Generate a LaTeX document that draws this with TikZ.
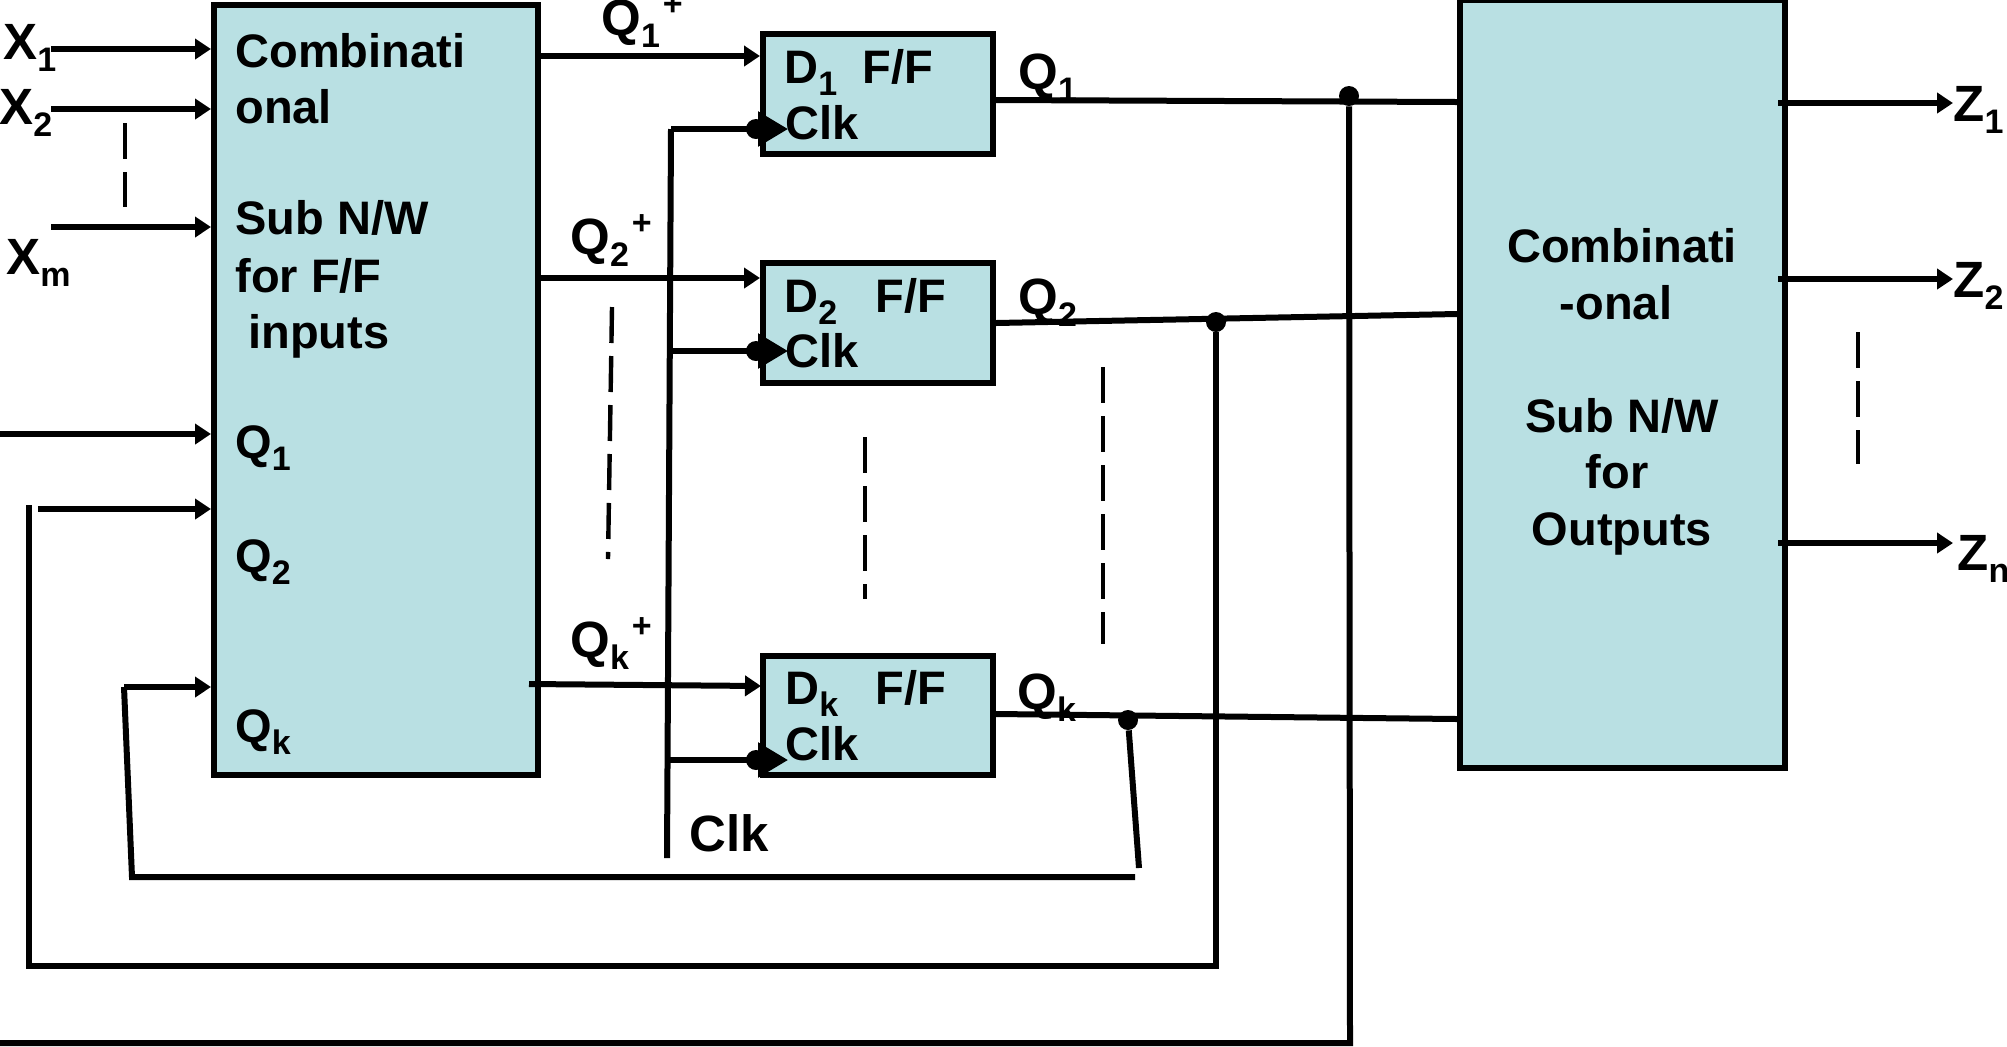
\documentclass[tikz,border=0pt]{standalone}
\usepackage{fontspec}
\setmainfont{Liberation Sans}
\usetikzlibrary{arrows.meta}
\definecolor{boxfill}{HTML}{B9E0E3}
\newcommand{\dn}[1]{\raisebox{-6pt}{\fontsize{17}{17}\selectfont #1}}
\newcommand{\pl}{\kern1.5pt\raisebox{10pt}{\fontsize{17}{17}\selectfont +}}
\begin{document}
\begin{tikzpicture}[x=0.5pt, y=-0.5pt,
  blk/.style={draw, fill=boxfill, line width=3pt, inner sep=0pt},
  lab/.style={anchor=base west, inner sep=0pt, font=\fontsize{23.5}{27}\selectfont\bfseries},
  biglab/.style={anchor=base west, inner sep=0pt, font=\fontsize{25.5}{29}\selectfont\bfseries},
  ctr/.style={anchor=base, inner sep=0pt, font=\fontsize{23.5}{27}\selectfont\bfseries},
  dot/.style={circle, fill=black, inner sep=0pt, minimum size=10pt},
  link/.style={line width=3pt},
  arr/.style={line width=3pt, -{Triangle[length=8pt,width=10pt]}},
  clkarr/.style={line width=3pt, -{Triangle[length=15pt,width=17pt]}},
  gaps/.style={line width=2.2pt, dash pattern=on 18pt off 6.5pt}]
  \useasboundingbox (0,0) rectangle (2007,1046);
  % blocks
  \node[blk, minimum width=162pt, minimum height=385pt] (comb) at (376,390) {};
  \node[blk, minimum width=162.5pt, minimum height=384pt] (outp) at (1622.5,384) {};
  \node[blk, minimum width=115pt, minimum height=60pt] (ff1) at (878,94) {};
  \node[blk, minimum width=115pt, minimum height=60pt] (ff2) at (878,323) {};
  \node[blk, minimum width=115pt, minimum height=59.5pt] (ffk) at (878,715) {};
  % text of the two blocks
  \node[lab] (t1) at (235,67) {Combinati};
  \node[lab] (t2) at (235,123) {onal};
  \node[lab] (t3) at (235,234) {Sub N/W};
  \node[lab] (t4) at (235,292) {for F/F};
  \node[lab] (t5) at (248,348) {inputs};
  \node[lab] (t6) at (235,458) {Q\dn{1}};
  \node[lab] (t7) at (235,572) {Q\dn{2}};
  \node[lab] (t8) at (235,742) {Q\dn{k}};
  \node[ctr] (r1) at (1622,262) {Combinati};
  \node[ctr] (r2) at (1616,319) {-onal};
  \node[ctr] (r3) at (1622,432) {Sub N/W};
  \node[ctr] (r4) at (1617,488) {for};
  \node[ctr] (r5) at (1622,545) {Outputs};
  % flip-flop text
  \node[lab] (d1) at (784,83) {D\dn{1}};
  \node[lab] (f1) at (862,83) {F/F};
  \node[lab] (c1) at (785,139) {Clk};
  \node[lab] (d2) at (784,312) {D\dn{2}};
  \node[lab] (f2) at (875,312) {F/F};
  \node[lab] (c2) at (785,367) {Clk};
  \node[lab] (dk) at (785,704) {D\dn{k}};
  \node[lab] (fk) at (875,704) {F/F};
  \node[lab] (ck) at (785,760) {Clk};
  % outer labels
  \node[biglab] (x1) at (3,59) {X\dn{1}};
  \node[biglab] (x2) at (-1,124) {X\dn{2}};
  \node[biglab] (xm) at (6,274) {X\dn{m}};
  \node[biglab] (qp1) at (601,35) {Q\dn{1}\pl};
  \node[biglab] (qp2) at (570,254) {Q\dn{2}\pl};
  \node[biglab] (qpk) at (570,657) {Q\dn{k}\pl};
  \node[biglab] (qo1) at (1018,89) {Q\dn{1}};
  \node[biglab] (qo2) at (1018,314) {Q\dn{2}};
  \node[biglab] (qok) at (1017,709) {Q\dn{k}};
  \node[biglab] (clk) at (689,851) {Clk};
  \node[biglab] (z1) at (1953,121) {Z\dn{1}};
  \node[biglab] (z2) at (1953,297) {Z\dn{2}};
  \node[biglab] (zn) at (1957,570) {Z\dn{n}};
  % free ends
  \coordinate (ix1) at (51,49);
  \coordinate (ix2) at (51,109);
  \coordinate (ixm) at (51,227);
  \coordinate (iq1) at (0,434);
  \coordinate (iq2) at (38,509);
  \coordinate (ikq) at (124,687);
  \coordinate (lk1) at (132,877);
  \coordinate (lk2) at (1135,877);
  \coordinate (lk3) at (1139,868);
  \coordinate (lb1) at (29,505);
  \coordinate (lb2) at (29,966);
  \coordinate (lb3) at (1216,966);
  \coordinate (lb4) at (1216,708);
  \coordinate (lb5) at (1216,711);
  \coordinate (fb1) at (0,1043);
  \coordinate (fb2) at (1350,1043);
  \coordinate (ckt) at (671,129);
  \coordinate (ckb) at (667,858);
  \coordinate (sk) at (529,684);
  \coordinate (ek) at (761,686);
  % dots on the outputs and on the clock inputs
  \node[dot] (n1) at (1349,96) {};
  \node[dot] (n2) at (1216,322) {};
  \node[dot] (n3) at (1128,720) {};
  \node[dot] (g1) at (756,129) {};
  \node[dot] (g2) at (756,351) {};
  \node[dot] (g3) at (756,760) {};
  \coordinate (t1c) at (788,129);
  \coordinate (t2c) at (788,351);
  \coordinate (t3c) at (788,760);
  % inputs of the left block
  \draw[arr] (ix1) -- (ix1 -| comb.west);
  \draw[arr] (ix2) -- (ix2 -| comb.west);
  \draw[arr] (ixm) -- (ixm -| comb.west);
  \draw[arr] (iq1) -- (iq1 -| comb.west);
  \draw[arr] (iq2) -- (iq2 -| comb.west);
  \draw[arr] (ikq) -- (ikq -| comb.west);
  % next-state lines
  \draw[arr] (comb.east |- 0,56) -- (ff1.west |- 0,56);
  \draw[arr] (comb.east |- 0,278) -- (ff2.west |- 0,278);
  \draw[arr] (sk) -- (ek);
  % clock
  \draw[link] (ckt) -- (ckb);
  \draw[clkarr] (ckt) -- (t1c);
  \draw[clkarr] (ckb |- t2c) -- (t2c);
  \draw[clkarr] (ckb |- t3c) -- (t3c);
  % outputs of the flip-flops
  \draw[link] (ff1.east |- 0,100) -- (outp.west |- 0,102);
  \draw[link] (ff2.east |- 0,323) -- (outp.west |- 0,314);
  \draw[link] (ffk.east |- 0,714) -- (outp.west |- 0,719);
  % feedback loops
  \draw[link] (ikq) -- (lk1) -- (lk2);
  \draw[link] (lk3) -- (n3);
  \draw[link, line join=miter] (lb1) -- (lb2) -- (lb3) -- (lb4);
  \draw[link] (lb5) -- (n2);
  \draw[link, line join=miter] (fb1) -- (fb2) -- (n1);
  % outputs of the right block
  \draw[arr] (1778,103) coordinate (zs1) -- (z1.west |- zs1);
  \draw[arr] (1778,279) coordinate (zs2) -- (z2.west |- zs2);
  \draw[arr] (1778,543) coordinate (zs3) -- (z1.west |- zs3);
  % broken lines that stand for the omitted rows
  \draw[gaps] (125,123) coordinate (da) -- (125,207) coordinate (db);
  \draw[gaps] (612,307) coordinate (dc) -- (608,559) coordinate (dd);
  \draw[gaps] (865,437) coordinate (de) -- (865,599) coordinate (df);
  \draw[gaps] (1103,367) coordinate (dg) -- (1103,644) coordinate (dh);
  \draw[gaps] (1858,332) coordinate (di) -- (1858,464) coordinate (dj);
\end{tikzpicture}
\end{document}
